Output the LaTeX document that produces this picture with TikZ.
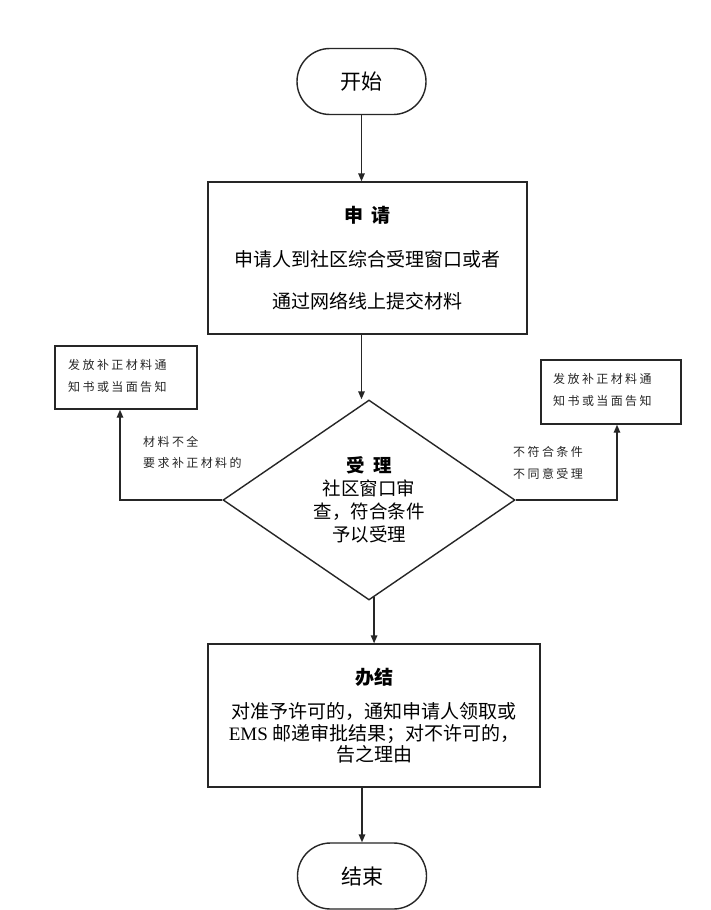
\documentclass[tikz,border=0pt]{standalone}
\usepackage{fontspec}
\setmainfont{Noto Sans CJK SC}
\newfontfamily\emsfont{Liberation Serif}
\usetikzlibrary{shapes.geometric,arrows.meta}
\tikzset{
  line/.style={draw=black!85, line width=1.4pt},
  arr/.style={line, -{Triangle[length=8pt,width=6.5pt]}},
  term/.style={line, rectangle, rounded corners=33pt, minimum width=129pt, minimum height=66pt, inner sep=0pt, font=\fontsize{21}{25}\selectfont},
  procbox/.style={line, rectangle, inner sep=0pt, align=center},
  smallbox/.style={line, rectangle, inner sep=0pt},
  smalltxt/.style={font=\fontsize{12}{21.5}\selectfont\addfontfeature{LetterSpace=20}, align=left, inner sep=0pt, text=black!85},
}
\begin{document}
\begin{tikzpicture}[x=1pt,y=-1pt]
\useasboundingbox[fill=white] (0,0) rectangle (710,910);

% terminals
\node[term] (start) at (361.5,81.5) {开始};
\node[term] (fin) at (362,876) {结束};

% application box
\node[procbox, minimum width=319pt, minimum height=152pt, font=\fontsize{19}{22}\selectfont] (app) at (367.5,258)
  {\textbf{申\hspace{0.45em}请}\\[22pt]申请人到社区综合受理窗口或者\\[20pt]通过网络线上提交材料};

% decision
\node[line, diamond, minimum width=292pt, minimum height=200pt, inner sep=0pt, align=center,
      font=\fontsize{18.5}{23}\selectfont] (dia) at (369,500)
  {\textbf{受\hspace{0.45em}理}\\社区窗口审\\查，符合条件\\予以受理};

% result box
\node[procbox, minimum width=332pt, minimum height=143pt, font=\fontsize{19}{21.5}\selectfont] (done) at (374,715.5)
  {\textbf{办结}\\[13pt]对准予许可的，通知申请人领取或\\{\emsfont EMS} 邮递审批结果；对不许可的，\\告之理由};

% side boxes
\node[smallbox, minimum width=142pt, minimum height=63pt] (lbox) at (126,377.5) {};
\node[smalltxt, anchor=west] (lboxt) at (68,376) {发放补正材料通\\知书或当面告知};
\node[smallbox, minimum width=140pt, minimum height=64pt] (rbox) at (611,392) {};
\node[smalltxt, anchor=west] (rboxt) at (553,390) {发放补正材料通\\知书或当面告知};

% labels
\node[smalltxt, anchor=west] (lab1) at (143,452.5) {材料不全\\要求补正材料的};
\node[smalltxt, anchor=west] (lab2) at (513,463) {不符合条件\\不同意受理};

% connectors
\draw[arr] (start.south) -- (start.south |- app.north);
\draw[arr] (app.south -| start.south) -- (dia.north -| start.south);
\draw[arr] (dia.-87) -- (dia.-87 |- done.north);
\draw[arr] (done.south -| fin.north) -- (fin.north);
\draw[arr] (dia.west) -| ([xshift=-6pt]lbox.south);
\draw[arr] (dia.east) -| ([xshift=6pt]rbox.south);
\end{tikzpicture}
\end{document}
